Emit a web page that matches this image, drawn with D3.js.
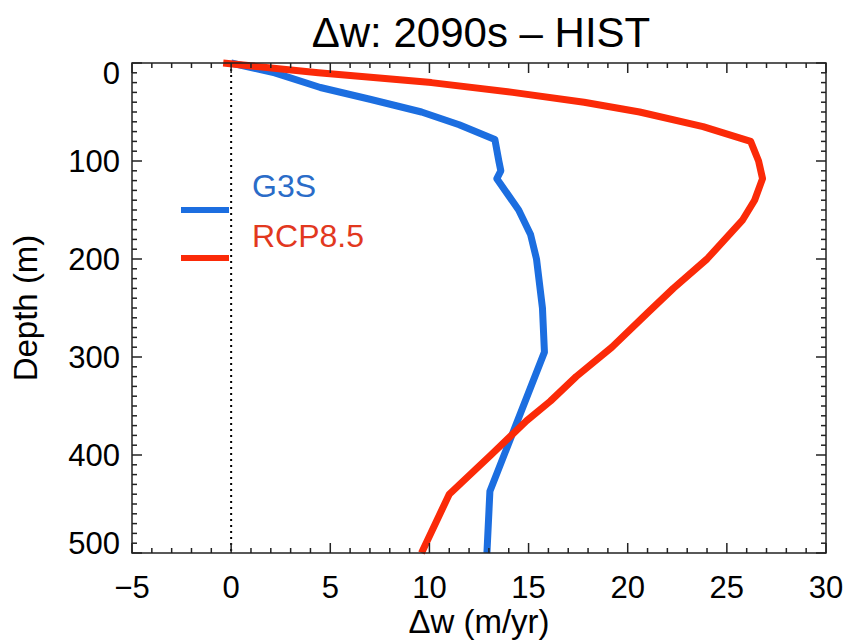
<!DOCTYPE html>
<html lang="en">
	<head>
		<meta charset="utf-8">
		<title>D3: Delta w profile</title>
		<script type="text/javascript" src="https://cdn.jsdelivr.net/npm/d3@7"></script>
		<style type="text/css">
			body { margin: 0; background: white; }
			text { font-family: "Liberation Sans", Arial, Helvetica, sans-serif; }
		</style>
	</head>
	<body>

		<script type="text/javascript">

			//Width and height
			var w = 849;
			var h = 640;
			var padL = 132, padR = 826, padT = 63, padB = 553;

			//Data: depth (m) and delta w (m/yr)
			var g3sDepth = [0, 10, 25, 37, 50, 63, 78, 100, 110, 118, 150, 175, 200, 250, 295, 437, 500];
			var g3sValue = [0, 2.2, 4.5, 7.0, 9.6, 11.5, 13.3, 13.5, 13.6, 13.4, 14.5, 15.1, 15.4, 15.7, 15.8, 13.05, 12.9];

			var rcpDepth = [0, 10, 20, 30, 40, 50, 65, 80, 100, 118, 140, 160, 200, 230, 255, 290, 320, 345, 365, 400, 440, 500];
			var rcpValue = [-0.4, 4.4, 10.1, 14.2, 17.8, 20.6, 23.8, 26.2, 26.6, 26.8, 26.4, 25.8, 24.0, 22.3, 21.0, 19.2, 17.4, 16.1, 14.9, 13.1, 11.0, 9.6];

			var xTicks = [-5, 0, 5, 10, 15, 20, 25, 30];
			var yTicks = [0, 100, 200, 300, 400, 500];
			var seriesNames = ["G3S", "RCP8.5"];
			var lineColors = ["#1c6ee0", "#fb2a08"];
			var textColors = ["#2a6cc8", "#e2381e"];

			var xScale = d3.scaleLinear()
							.domain([-5, 30])
							.range([padL, padR]);

			var yScale = d3.scaleLinear()
							.domain([0, 500])
							.range([padT, padB]);

			//Create SVG element
			var svg = d3.select("body")
						.append("svg")
						.attr("width", w)
						.attr("height", h);

			//Zero line
			svg.append("line")
			   .attr("x1", xScale(0))
			   .attr("x2", xScale(0))
			   .attr("y1", yScale(0))
			   .attr("y2", yScale(500))
			   .attr("stroke", "black")
			   .attr("stroke-width", 2)
			   .attr("stroke-dasharray", "2,4");

			//Profiles
			var line = d3.line()
						.x(function(d) { return xScale(d[1]); })
						.y(function(d) { return yScale(d[0]); });

			var profiles = [d3.zip(g3sDepth, g3sValue), d3.zip(rcpDepth, rcpValue)];

			svg.selectAll("path.profile")
			   .data(profiles)
			   .enter()
			   .append("path")
			   .attr("class", "profile")
			   .attr("d", line)
			   .attr("fill", "none")
			   .attr("stroke", function(d, i) { return lineColors[i]; })
			   .attr("stroke-width", 7)
			   .attr("stroke-linejoin", "round");

			//Axes: ticks inside, mirrored on top and right
			var minorX = d3.range(-5, 31, 1);
			var minorY = d3.range(0, 501, 10);

			var axisG = svg.append("g")
						.attr("stroke", "#222")
						.attr("stroke-width", 1.5);

			axisG.append("rect")
				.attr("x", padL)
				.attr("y", padT)
				.attr("width", padR - padL)
				.attr("height", padB - padT)
				.attr("fill", "none");

			minorX.forEach(function(v) {
				var len = (v % 5 === 0) ? 10 : 5;
				axisG.append("line").attr("x1", xScale(v)).attr("x2", xScale(v))
					.attr("y1", padB).attr("y2", padB - len);
				axisG.append("line").attr("x1", xScale(v)).attr("x2", xScale(v))
					.attr("y1", padT).attr("y2", padT + len);
			});

			minorY.forEach(function(v) {
				var len = (v % 100 === 0) ? 10 : 5;
				axisG.append("line").attr("y1", yScale(v)).attr("y2", yScale(v))
					.attr("x1", padL).attr("x2", padL + len);
				axisG.append("line").attr("y1", yScale(v)).attr("y2", yScale(v))
					.attr("x1", padR).attr("x2", padR - len);
			});

			//Tick labels
			svg.selectAll("text.xtick")
			   .data(xTicks)
			   .enter()
			   .append("text")
			   .attr("class", "xtick")
			   .text(function(d) { return d < 0 ? "\u2212" + Math.abs(d) : d; })
			   .attr("text-anchor", "middle")
			   .attr("x", function(d) { return xScale(d); })
			   .attr("y", 598)
			   .attr("font-size", "31px");

			svg.selectAll("text.ytick")
			   .data(yTicks)
			   .enter()
			   .append("text")
			   .attr("class", "ytick")
			   .text(function(d) { return d; })
			   .attr("text-anchor", "end")
			   .attr("x", padL - 12)
			   .attr("y", function(d, i) {
			   		var shift = 0;
			   		if (i === 0) shift = 10;
			   		if (i === yTicks.length - 1) shift = -10;
			   		return yScale(d) + 11 + shift;
			   })
			   .attr("font-size", "31px");

			//Titles
			svg.append("text")
			   .text("\u0394w: 2090s \u2013 HIST")
			   .attr("text-anchor", "middle")
			   .attr("x", (padL + padR) / 2 + 2)
			   .attr("y", 47)
			   .attr("font-size", "42px");

			svg.append("text")
			   .text("\u0394w (m/yr)")
			   .attr("text-anchor", "middle")
			   .attr("x", (padL + padR) / 2)
			   .attr("y", 633)
			   .attr("font-size", "33px");

			svg.append("text")
			   .text("Depth (m)")
			   .attr("text-anchor", "middle")
			   .attr("transform", "translate(37," + ((padT + padB) / 2) + ") rotate(-90)")
			   .attr("font-size", "33px");

			//Legend
			var legend = svg.selectAll("g.legend")
							.data(seriesNames)
							.enter()
							.append("g")
							.attr("class", "legend");

			legend.append("line")
				.attr("x1", 181)
				.attr("x2", 229)
				.attr("y1", function(d, i) { return 210 + i * 48; })
				.attr("y2", function(d, i) { return 210 + i * 48; })
				.attr("stroke", function(d, i) { return lineColors[i]; })
				.attr("stroke-width", 6);

			legend.append("text")
				.text(function(d) { return d; })
				.attr("x", 252)
				.attr("y", function(d, i) { return 197 + i * 50; })
				.attr("fill", function(d, i) { return textColors[i]; })
				.attr("font-size", "32px");

		</script>
	</body>
</html>
